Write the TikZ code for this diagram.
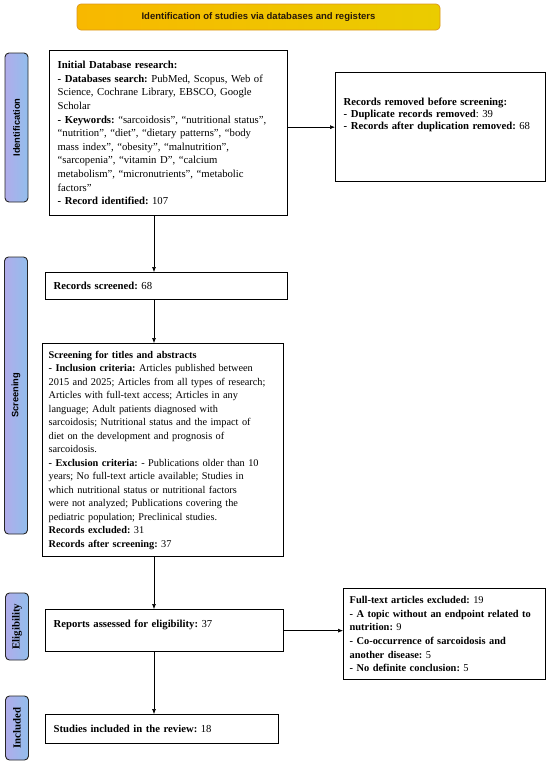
\documentclass[tikz,border=0pt]{standalone}
\usepackage{fontspec}
\setmainfont{Liberation Serif}
\setsansfont{Liberation Sans}
\usetikzlibrary{positioning,arrows.meta}
\definecolor{PhaseBlue}{RGB}{146,190,236}
\definecolor{PhaseLilac}{RGB}{176,172,234}
\definecolor{TitleOrange}{RGB}{248,184,0}
\definecolor{TitleYellow}{RGB}{234,204,0}
\definecolor{TitleEdge}{RGB}{220,150,30}
\definecolor{TitleInk}{RGB}{40,25,10}
\frenchspacing

\begin{document}
\begin{tikzpicture}[x=1pt,y=-1pt,
box/.style={rectangle,draw=black,line width=1.3pt,fill=white,anchor=north west,inner xsep=8pt,inner ysep=2pt,align=left,font=\fontsize{10.7}{13.6}\selectfont},
side/.style={box,font=\fontsize{10.7}{13.6}\selectfont},
phase/.style={rectangle,rounded corners=4pt,draw=black!85,line width=0.9pt,left color=PhaseLilac,middle color=PhaseBlue,right color=PhaseBlue,rotate=90,minimum height=23pt,inner sep=0pt,font=\sffamily\bfseries\fontsize{9.3}{11}\selectfont},
phaseser/.style={phase,font=\bfseries\fontsize{10.8}{12}\selectfont},
title/.style={rectangle,rounded corners=4pt,draw=TitleEdge,line width=0.7pt,left color=TitleOrange,right color=TitleYellow,text=TitleInk,minimum width=363pt,minimum height=26pt,font=\sffamily\bfseries\fontsize{9.5}{11}\selectfont},
arrow/.style={-{Latex[length=5pt,width=4pt]},line width=0.6pt,draw=black}
]
\useasboundingbox (0,0) rectangle (550,764);
% banner and phases
\node[title] (head) at (258.5,17) {Identification of studies via databases and registers};
\node[phase,minimum width=149pt] (pid) at (16.5,127.5) {Identification};
\node[phase,minimum width=277pt] (psc) at (16,395.5) {Screening};
\node[phaseser,minimum width=67pt] (pel) at (17,626.5) {Eligibility};
\node[phaseser,minimum width=64pt] (pin) at (17,728) {Included};
% main column
\node[box,text width=222pt,minimum height=165pt] (init) at (49,50) {\textbf{Initial Database research:}\\
\textbf{- Databases search:} PubMed, Scopus, Web of\\
Science, Cochrane Library, EBSCO, Google\\
Scholar\\
\textbf{- Keywords:} ``sarcoidosis'', ``nutritional status'',\\
``nutrition'', ``diet'', ``dietary patterns'', ``body\\
mass index'', ``obesity'', ``malnutrition'',\\
``sarcopenia'', ``vitamin D'', ``calcium\\
metabolism'', ``micronutrients'', ``metabolic\\
factors''\\
\textbf{- Record identified:} 107};
\node[box,text width=226pt,minimum height=27pt] (scrd) at (45,272) {\textbf{Records screened:} 68};
\node[box,inner xsep=6pt,text width=229pt,minimum height=213pt,font=\fontsize{10.3}{13.5}\selectfont] (tiab) at (42,343) {\textbf{Screening for titles and abstracts}\\
\textbf{- Inclusion criteria:} Articles published between\\
2015 and 2025; Articles from all types of research;\\
Articles with full-text access; Articles in any\\
language; Adult patients diagnosed with\\
sarcoidosis; Nutritional status and the impact of\\
diet on the development and prognosis of\\
sarcoidosis.\\
\textbf{- Exclusion criteria:} - Publications older than 10\\
years; No full-text article available; Studies in\\
which nutritional status or nutritional factors\\
were not analyzed; Publications covering the\\
pediatric population; Preclinical studies.\\
\textbf{Records excluded:} 31\\
\textbf{Records after screening:} 37};
\node[box,text width=222pt,minimum height=42pt] (elig) at (45,609) {\textbf{Reports assessed for eligibility:} 37\\ \mbox{}};
\node[box,text width=217pt,minimum height=29pt] (incl) at (45,714) {\textbf{Studies included in the review:} 18};
% side boxes
\node[side,text width=194pt,minimum height=109pt,font=\fontsize{10.7}{12}\selectfont] (dup) at (335,72) {\textbf{Records removed before screening:}\\
\textbf{- Duplicate records removed}: 39\\
\textbf{- Records after duplication removed:} 68\\[14pt]\mbox{}};
\node[side,inner xsep=6pt,text width=190pt,minimum height=91pt,font=\fontsize{10.4}{13.6}\selectfont] (ftx) at (343,588) {\textbf{Full-text articles excluded:} 19\\
\textbf{- A topic without an endpoint related to}\\
\textbf{nutrition:} 9\\
\textbf{- Co-occurrence of sarcoidosis and}\\
\textbf{another disease:} 5\\
\textbf{- No definite conclusion:} 5};
% connectors
\coordinate (col) at (154,0);
\draw[arrow] (init.south -| col) -- (scrd.north -| col);
\draw[arrow] (scrd.south -| col) -- (tiab.north -| col);
\draw[arrow] (tiab.south -| col) -- (elig.north -| col);
\draw[arrow] (elig.south -| col) -- (incl.north -| col);
\draw[arrow] (dup.west -| init.east) -- (dup.west);
\draw[arrow] (elig.east) -- (elig.east -| ftx.west);
\end{tikzpicture}
\end{document}
